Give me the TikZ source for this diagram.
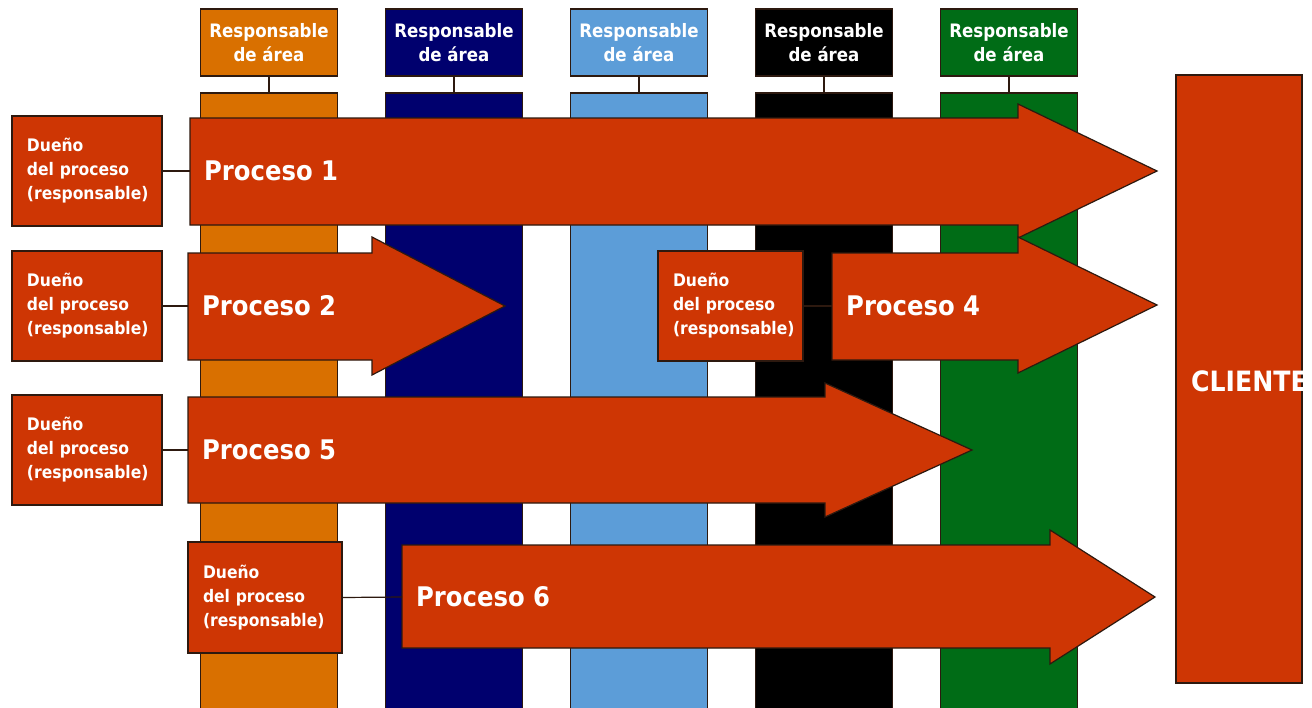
\documentclass[tikz,border=0pt]{standalone}
\usepackage{fontspec}
\setmainfont{DejaVu Sans Condensed}
\begin{document}
\begin{tikzpicture}[x=1pt,y=-1pt,
  line join=miter,
  header/.style={draw=linecol,line width=1.2pt,minimum width=137pt,minimum height=67pt,inner sep=0pt,
     align=center,text=white,font=\bfseries\fontsize{18.5}{23.5}\selectfont},
  column/.style={draw=linecol,line width=1.2pt},
  arrowshape/.style={fill=arrowred,draw=linecol,line width=1.2pt},
  proclabel/.style={anchor=west,inner xsep=14pt,inner ysep=0pt,text=white,font=\bfseries\fontsize{27}{30}\selectfont},
  owner/.style={fill=arrowred,draw=linecol,line width=1.2pt,minimum height=110pt,inner xsep=15pt,
     align=left,text=white,font=\bfseries\fontsize{17.3}{24}\selectfont},
  link/.style={draw=linecol,line width=1.2pt}]
\definecolor{linecol}{RGB}{45,25,15}
\definecolor{arrowred}{RGB}{206,54,4}
\definecolor{c1}{RGB}{217,112,0}
\definecolor{c2}{RGB}{0,0,110}
\definecolor{c3}{RGB}{92,157,216}
\definecolor{c4}{RGB}{0,0,0}
\definecolor{c5}{RGB}{0,108,22}
\useasboundingbox (0,0) rectangle (1312,707);
\fill[white] (0,0) rectangle (1312,707);

% headers and columns
\foreach \i/\cx in {1/269,2/454,3/639,4/824,5/1009}{
  \node[header,fill=c\i] (h\i) at (\cx,42.5) {Responsable\\de área};
  \filldraw[column,fill=c\i] (\cx-68.5,93) rectangle (\cx+68.5,712);
  \coordinate (ct\i) at (\cx,93);
  \draw[link] (h\i.south) -- (ct\i);
}

% cliente
\filldraw[arrowred,draw=linecol,line width=1.2pt] (1176,75) rectangle (1302,683);
\node[anchor=west,inner sep=0pt,text=white,font=\bfseries\fontsize{28}{30}\selectfont] (cli) at (1191,381) {CLIENTE};

% process arrows
\filldraw[arrowshape] (190,118) -- (1018,118) -- (1018,104) -- (1157,171) -- (1018,238) -- (1018,225) -- (190,225) -- cycle;
\node[proclabel] (p1) at (190,171) {Proceso 1};

\filldraw[arrowshape] (188,253) -- (372,253) -- (372,237) -- (505,306) -- (372,375) -- (372,360) -- (188,360) -- cycle;
\node[proclabel] (p2) at (188,306) {Proceso 2};

\filldraw[arrowshape] (832,253) -- (1018,253) -- (1018,237) -- (1157,305) -- (1018,373) -- (1018,360) -- (832,360) -- cycle;
\node[proclabel] (p4) at (832,306) {Proceso 4};

\filldraw[arrowshape] (188,397) -- (825,397) -- (825,383) -- (972,450) -- (825,517) -- (825,503) -- (188,503) -- cycle;
\node[proclabel] (p5) at (188,450) {Proceso 5};

\filldraw[arrowshape] (402,545) -- (1050,545) -- (1050,530) -- (1155,597) -- (1050,664) -- (1050,648) -- (402,648) -- cycle;
\node[proclabel] (p6) at (402,597) {Proceso 6};

% owners
\node[owner,text width=120pt] (o1) at (87,171) {Dueño\\del proceso\\(responsable)};
\node[owner,text width=120pt] (o2) at (87,306) {Dueño\\del proceso\\(responsable)};
\node[owner,text width=115pt] (o4) at (730.5,306) {Dueño\\del proceso\\(responsable)};
\node[owner,text width=120pt] (o5) at (87,450) {Dueño\\del proceso\\(responsable)};
\node[owner,text width=124pt,minimum height=111pt] (o6) at (265,597.5) {Dueño\\del proceso\\(responsable)};

\draw[link] (o1.east) -- (p1.west);
\draw[link] (o2.east) -- (p2.west);
\draw[link] (o4.east) -- (p4.west);
\draw[link] (o5.east) -- (p5.west);
\draw[link] (o6.east) -- (p6.west);
\end{tikzpicture}
\end{document}
